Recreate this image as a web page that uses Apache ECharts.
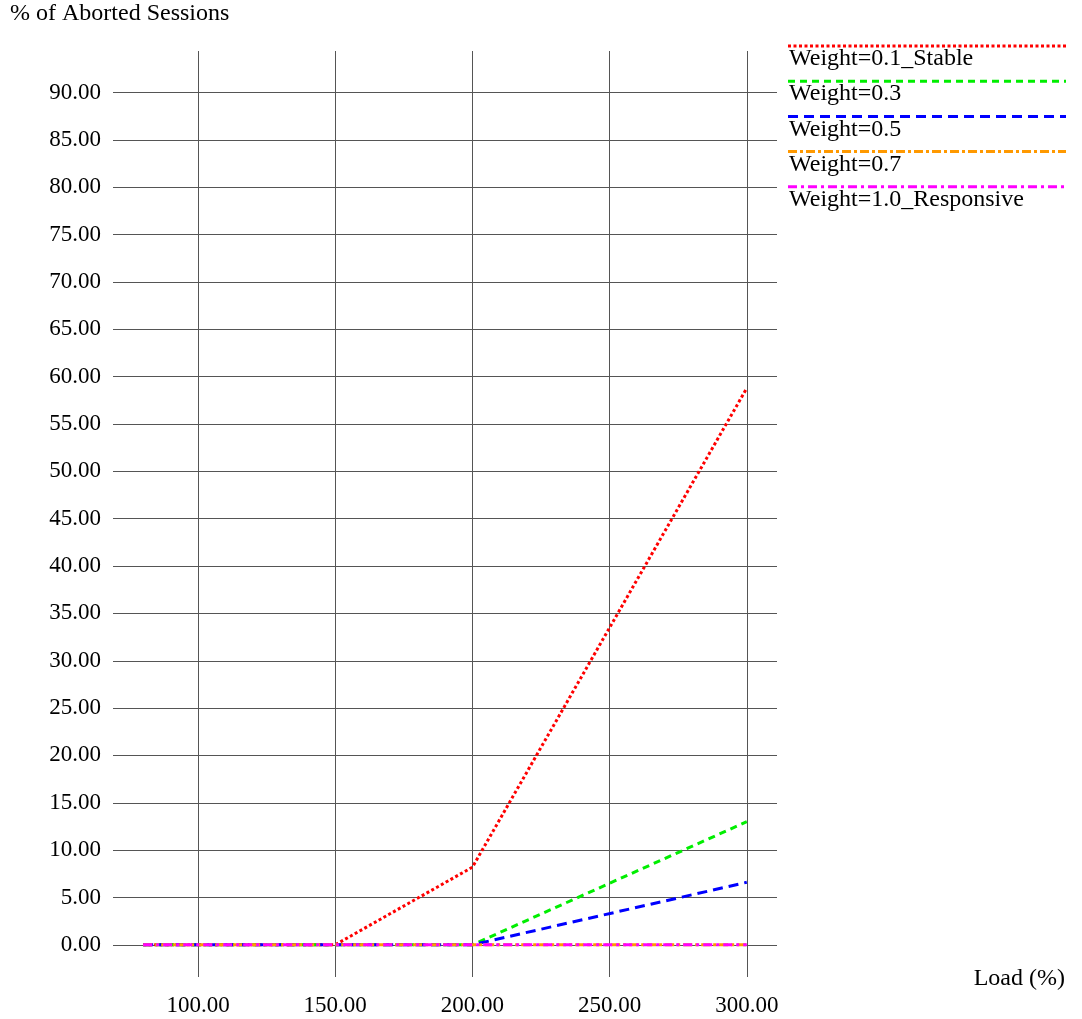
<!DOCTYPE html>
<html>
<head>
<meta charset="utf-8">
<script src="https://cdn.jsdelivr.net/npm/echarts@6/dist/echarts.min.js"></script>
<style>
  html, body { margin: 0; padding: 0; background: #fff; }
  #chart { width: 1082px; height: 1019px; }
</style>
</head>
<body>
<div id="chart"></div>
<script>
// Load levels (%) sampled in the experiment
const loads = [80, 100, 150, 200, 300];

// Share of aborted sessions per weight setting
const seriesNames = ['Weight=0.1_Stable', 'Weight=0.3', 'Weight=0.5', 'Weight=0.7', 'Weight=1.0_Responsive'];
const stable01 = [0, 0, 0, 8.2, 58.8];
const weight03 = [0, 0, 0, 0, 13.0];
const weight05 = [0, 0, 0, 0, 6.6];
const weight07 = [0, 0, 0, 0, 0];
const responsive10 = [0, 0, 0, 0, 0];

// Tick positions shown on each axis
const xTicks = [100, 150, 200, 250, 300];
const yTicks = [0, 5, 10, 15, 20, 25, 30, 35, 40, 45, 50, 55, 60, 65, 70, 75, 80, 85, 90];

const values = [stable01, weight03, weight05, weight07, responsive10];
const colors = ['#ff0000', '#00ee00', '#0000ff', '#ff9900', '#ff00ff'];
const dashes = [[3, 2.5], [7, 5], [10, 6], [9, 3, 3, 3], [9, 4, 3, 4]];

const FONT = '"Liberation Serif", "DejaVu Serif", serif';
const TICK_FONT_SIZE = 23;
const TEXT_FONT_SIZE = 24;
const GRID_COLOR = '#555';

const chart = echarts.init(document.getElementById('chart'), null, { renderer: 'canvas' });

const series = seriesNames.map((name, i) => ({
  name: name,
  type: 'line',
  data: loads.map((x, j) => [x, values[i][j]]),
  symbol: 'none',
  lineStyle: { color: colors[i], width: 3, type: dashes[i], cap: 'butt' },
  itemStyle: { color: colors[i] },
  animation: false
}));

// Legend: a coloured line with its name beneath, stacked on the right
const legendGraphics = [];
seriesNames.forEach((name, i) => {
  const y = 46 + i * 35.2;
  legendGraphics.push({
    type: 'line',
    shape: { x1: 788, y1: y, x2: 1066, y2: y },
    style: { stroke: colors[i], lineWidth: 3, lineDash: dashes[i] }
  });
  legendGraphics.push({
    type: 'text',
    left: 789,
    top: y + 1,
    style: { text: name, font: TEXT_FONT_SIZE + 'px ' + FONT, fill: '#000' }
  });
});

const tickLabel = (margin) => ({
  formatter: v => v.toFixed(2),
  color: '#000',
  fontFamily: FONT,
  fontSize: TICK_FONT_SIZE,
  margin: margin
});

chart.setOption({
  backgroundColor: '#fff',
  animation: false,
  grid: { left: 113, right: 1082 - 777, top: 51, bottom: 1019 - 977, containLabel: false },
  xAxis: {
    type: 'value',
    min: 69,
    max: 311,
    axisLine: { show: false },
    axisTick: { show: false, customValues: xTicks },
    axisLabel: Object.assign({ customValues: xTicks }, tickLabel(17)),
    splitLine: { show: true, lineStyle: { color: GRID_COLOR, width: 1 } }
  },
  yAxis: {
    type: 'value',
    min: -3.4,
    max: 94.4,
    axisLine: { show: false },
    axisTick: { show: false, customValues: yTicks },
    axisLabel: Object.assign({ customValues: yTicks }, tickLabel(12)),
    splitLine: { show: true, lineStyle: { color: GRID_COLOR, width: 1 } }
  },
  graphic: [
    {
      type: 'text', left: 10, top: 2,
      style: { text: '% of Aborted Sessions', font: TEXT_FONT_SIZE + 'px ' + FONT, fill: '#000' }
    },
    {
      type: 'text', right: 17, top: 967,
      style: { text: 'Load (%)', font: TEXT_FONT_SIZE + 'px ' + FONT, fill: '#000' }
    }
  ].concat(legendGraphics),
  series: series
});
</script>
</body>
</html>
